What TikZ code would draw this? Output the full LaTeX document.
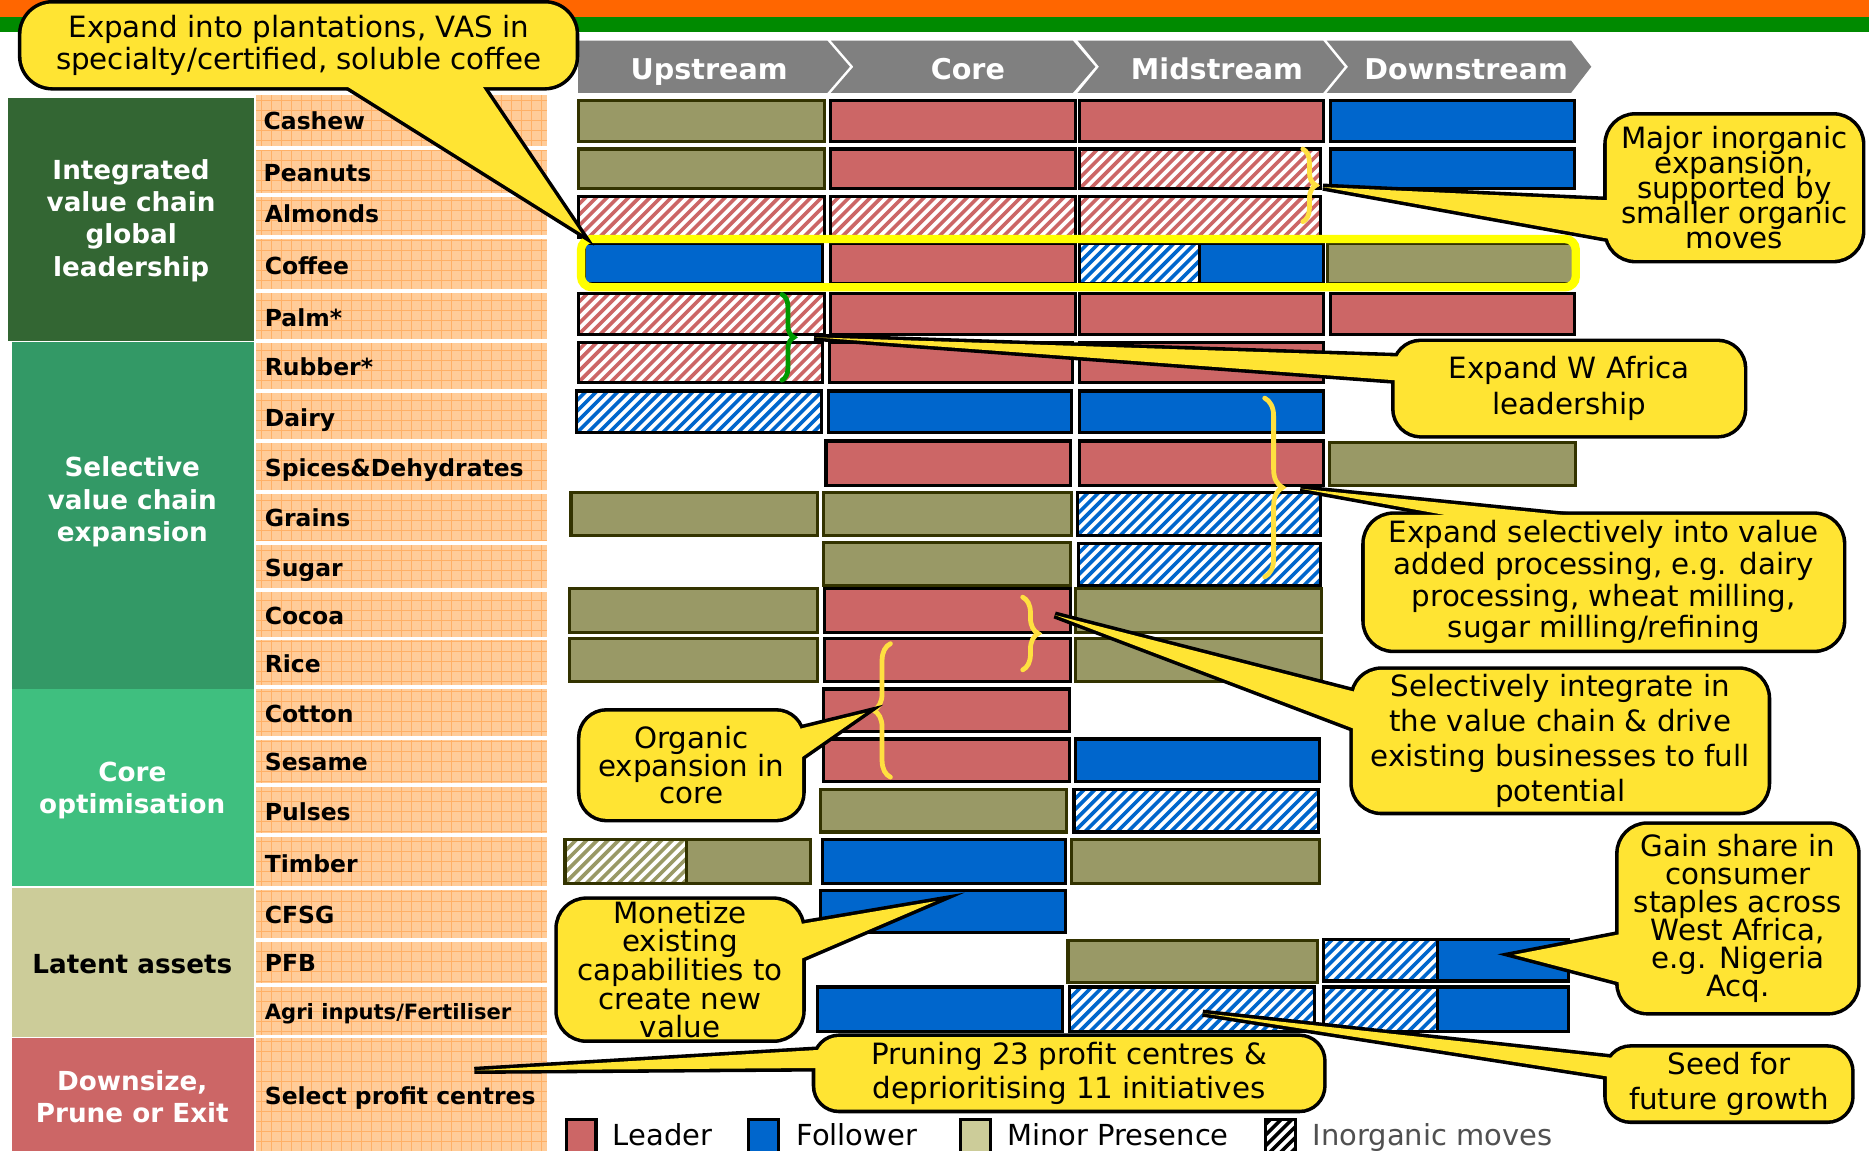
\documentclass[tikz,border=0pt]{standalone}
\usepackage{fontspec}
\setmainfont{DejaVu Sans}
\usetikzlibrary{calc,decorations.pathreplacing}

\definecolor{bandorange}{HTML}{FF6600}
\definecolor{bandgreen}{HTML}{008A00}
\definecolor{catdark}{HTML}{336633}
\definecolor{catmid}{HTML}{339966}
\definecolor{catlight}{HTML}{3FBF7F}
\definecolor{catbeige}{HTML}{CCCC99}
\definecolor{catred}{HTML}{CC6666}
\definecolor{cellfill}{HTML}{FFCC99}
\definecolor{cellgrid}{HTML}{FFB066}
\definecolor{headgray}{HTML}{808080}
\definecolor{leadred}{HTML}{CC6666}
\definecolor{follblue}{HTML}{0066CC}
\definecolor{minolive}{HTML}{999966}
\definecolor{olivedark}{HTML}{333300}
\definecolor{minlegend}{HTML}{CCCC99}
\definecolor{hiyellow}{HTML}{FFFF00}
\definecolor{braceyellow}{HTML}{FFE040}
\definecolor{bracegreen}{HTML}{009900}
\definecolor{bubblefill}{HTML}{FFE433}
\definecolor{legendgray}{HTML}{505050}

% callout font with a fixed baseline distance, even when lines would touch
\protected\def\bubblefont#1{\fontsize{24.6}{#1}\selectfont\lineskiplimit-100pt\lineskip0pt\relax}

\tikzset{
  leader/.style={fill=leadred, draw=black, line width=2.6pt},
  follower/.style={fill=follblue, draw=black, line width=2.6pt},
  minor/.style={fill=minolive, draw=olivedark, line width=2.6pt},
  headtext/.style={text=white, font=\bfseries\fontsize{24}{28}\selectfont, inner sep=0, text height=17.5pt, text depth=0pt},
  cattext/.style={align=center, text=white, font=\bfseries\fontsize{22}{27}\selectfont, inner sep=0},
  rowlabel/.style={anchor=west, inner sep=0, text height=14pt, text depth=0pt, font=\bfseries\fontsize{19.7}{22}\selectfont},
  bubbletext/.style={align=center, inner sep=0, font={\bubblefont{#1}}},
  legendtext/.style={anchor=west, inner sep=0, text height=17.5pt, text depth=0pt, font=\fontsize{24.3}{28}\selectfont},
  bracemark/.style={decorate, decoration={brace, amplitude=#1}, line width=4pt, line cap=round},
}

% diagonal stripes on white inside a rectangle
\newcommand{\hatchfill}[5]{%
  \fill[white] (#1,#2) rectangle (#3,#4);
  \begin{scope}
    \clip (#1,#2) rectangle (#3,#4);
    \foreach \hk in {0,9,...,270}
      \draw[#5, line width=3pt] ({#1+\hk-50},{#4+5}) -- ++(60,-60);
  \end{scope}}
\newcommand{\hatchbar}[6]{\hatchfill{#1}{#2}{#3}{#4}{#5}\draw[#6, line width=2.6pt] (#1,#2) rectangle (#3,#4);}
\newcommand{\sbar}[5]{\draw[#1] (#2,#3) rectangle (#4,#5);}
% half striped, half solid bar: x1, xm, x2, y1, y2, stripe colour, solid colour, border colour
\newcommand{\splitbar}[8]{%
  \hatchfill{#1}{#4}{#2}{#5}{#6}
  \fill[#7] (#2,#4) rectangle (#3,#5);
  \draw[#8, line width=2.6pt] (#1,#4) rectangle (#3,#5) (#2,#4) -- (#2,#5);}
% speech bubble: box (<p>nw)-(<p>se), pointer (<p>p)-(<p>tip)-(<p>q)
\newcommand{\bubbleshape}[2]{%
  \draw[line width=6pt, rounded corners=#2] (#1nw) rectangle (#1se);
  \draw[line width=6pt, line join=miter] ($(#1p)!-14pt!(#1tip)$) -- (#1tip) -- ($(#1q)!-14pt!(#1tip)$) -- cycle;
  \fill[bubblefill, rounded corners=#2] (#1nw) rectangle (#1se);
  \fill[bubblefill] ($(#1p)!-14pt!(#1tip)$) -- (#1tip) -- ($(#1q)!-14pt!(#1tip)$) -- cycle;}

\begin{document}
\begin{tikzpicture}[x=1pt, y=-1pt]
\useasboundingbox (0,0) rectangle (1568,965);
\fill[white] (0,0) rectangle (1568,965);

% top bands
\fill[bandorange] (0,0) rectangle (1568,14);
\fill[bandgreen] (0,14) rectangle (1568,27);

% strategy categories
\fill[catdark] (7,82) rectangle (213,286);
\fill[catmid] (10,287) rectangle (213,578);
\fill[catlight] (10,578) rectangle (213,743);
\fill[catbeige] (10,745) rectangle (213,870);
\fill[catred] (10,871) rectangle (213,968);
\node[cattext] (g1) at (110,185) {Integrated\\value chain\\global\\leadership};
\node[cattext] (g2) at (111,421) {Selective\\value chain\\expansion};
\node[cattext] (g3) at (111,663) {Core\\optimisation};
\node[cattext, text=black] (g4) at (111,809) {Latent assets};
\node[cattext] (g5) at (111,920) {Downsize,\\Prune or Exit};

% business cells
\fill[cellfill] (215,80) rectangle (459,968);
\foreach \gx in {219,227.4,...,459} \draw[cellgrid, line width=0.5pt] (\gx,80) -- (\gx,968);
\foreach \gy in {84,92.4,...,968} \draw[cellgrid, line width=0.5pt] (215,\gy) -- (459,\gy);
\foreach \gy in {124,163.5,199,244,286,328,370,413,455.5,495,535.5,576.5,619,658.5,700.5,745,788.5,826.5,869.5}
  \draw[white, line width=3pt] (213,\gy) -- (461,\gy);
\draw[white, line width=2pt] (214,80) -- (214,968);

\node[rowlabel] (r1) at (221,102) {Cashew};
\node[rowlabel] (r2) at (221,145) {Peanuts};
\node[rowlabel] (r3) at (222,180) {Almonds};
\node[rowlabel] (r4) at (222,223) {Coffee};
\node[rowlabel] (r5) at (222,267) {Palm*};
\node[rowlabel] (r6) at (222,308) {Rubber*};
\node[rowlabel] (r7) at (222,351) {Dairy};
\node[rowlabel] (r8) at (222,393) {Spices\&Dehydrates};
\node[rowlabel] (r9) at (222,435) {Grains};
\node[rowlabel] (r10) at (222,477) {Sugar};
\node[rowlabel] (r11) at (222,517) {Cocoa};
\node[rowlabel] (r12) at (222,557) {Rice};
\node[rowlabel] (r13) at (222,599) {Cotton};
\node[rowlabel] (r14) at (222,639) {Sesame};
\node[rowlabel] (r15) at (222,681) {Pulses};
\node[rowlabel] (r16) at (222,725) {Timber};
\node[rowlabel] (r17) at (222,768) {CFSG};
\node[rowlabel] (r18) at (222,808) {PFB};
\node[rowlabel, font=\bfseries\fontsize{17.7}{20}\selectfont, text height=12.8pt] (r19) at (222,849) {Agri inputs/Fertiliser};
\node[rowlabel] (r20) at (222,920) {Select profit centres};

% value chain stages
\fill[headgray] (485,34) -- (694,34) -- (713,56) -- (694,78) -- (485,78) -- cycle;
\fill[headgray] (697,34) -- (900,34) -- (919,56) -- (900,78) -- (697,78) -- (716,56) -- cycle;
\fill[headgray] (904,34) -- (1110,34) -- (1128,56) -- (1110,78) -- (904,78) -- (922,56) -- cycle;
\fill[headgray] (1113,34) -- (1318,34) -- (1335,56) -- (1318,78) -- (1113,78) -- (1131,56) -- cycle;
\node[headtext] (h1) at (595,58) {Upstream};
\node[headtext] (h2) at (812,58) {Core};
\node[headtext] (h3) at (1021,58) {Midstream};
\node[headtext] (h4) at (1230,58) {Downstream};

% positions per business
% Cashew
\sbar{minor}{485}{84}{692}{119}
\sbar{leader}{697}{84}{902}{119}
\sbar{leader}{906}{84}{1110}{119}
\sbar{follower}{1116}{84}{1321}{119}
% Peanuts
\sbar{minor}{485}{125}{692}{158}
\sbar{leader}{697}{125}{902}{158}
\hatchbar{906}{125}{1108}{158}{leadred}{black}
\sbar{follower}{1116}{125}{1321}{158}
% Almonds
\hatchbar{485}{165}{692}{199}{leadred}{black}
\hatchbar{697}{165}{902}{199}{leadred}{black}
\hatchbar{906}{165}{1108}{199}{leadred}{black}
% Coffee
\sbar{follower}{490}{204}{690}{238}
\sbar{leader}{697}{204}{902}{238}
\splitbar{906}{1006}{1110}{204}{238}{follblue}{follblue}{black}
\sbar{minor}{1114}{204}{1320}{238}
% Palm
\hatchbar{485}{246}{692}{281}{leadred}{black}
\sbar{leader}{697}{246}{902}{281}
\sbar{leader}{906}{246}{1110}{281}
\sbar{leader}{1116}{246}{1321}{281}
% Rubber
\hatchbar{485}{287}{690}{321}{leadred}{black}
\sbar{leader}{696}{287}{900}{321}
\sbar{leader}{906}{287}{1110}{321}
% Dairy
\hatchbar{484}{328}{689}{363}{follblue}{black}
\sbar{follower}{695}{328}{899}{363}
\sbar{follower}{906}{328}{1110}{363}
% Spices & dehydrates
\sbar{leader}{693}{370}{898}{407}
\sbar{leader}{906}{370}{1110}{407}
\sbar{minor}{1115}{371}{1322}{407}
% Grains
\sbar{minor}{479}{413}{686}{449}
\sbar{minor}{691}{413}{899}{449}
\hatchbar{904}{413}{1108}{449}{follblue}{black}
% Sugar
\sbar{minor}{691}{455}{898}{491}
\hatchbar{905}{456}{1108}{491}{follblue}{black}
% Cocoa
\sbar{minor}{478}{494}{686}{531}
\sbar{leader}{692}{494}{898}{531}
\sbar{minor}{902}{494}{1109}{531}
% Rice
\sbar{minor}{478}{536}{686}{572}
\sbar{leader}{692}{536}{898}{572}
\sbar{minor}{902}{536}{1109}{572}
% Cotton
\sbar{leader}{691}{578}{897}{614}
% Sesame
\sbar{leader}{691}{620}{897}{656}
\sbar{follower}{902}{620}{1107}{656}
% Pulses
\sbar{minor}{688}{662}{895}{698}
\hatchbar{901}{662}{1106}{698}{follblue}{black}
% Timber
\splitbar{474}{576}{680}{704}{741}{minolive}{minolive}{olivedark}
\sbar{follower}{690}{704}{894}{741}
\sbar{minor}{899}{704}{1107}{741}
% CFSG
\sbar{follower}{688}{747}{894}{782}
% PFB
\sbar{minor}{896}{789}{1105}{824}
\splitbar{1110}{1206}{1316}{788}{823}{follblue}{follblue}{black}
% Agri inputs
\sbar{follower}{686}{828}{891}{865}
\hatchbar{897}{828}{1103}{865}{follblue}{black}
\splitbar{1110}{1206}{1316}{828}{865}{follblue}{follblue}{black}

% coffee highlight
\draw[hiyellow, line width=7pt, rounded corners=9pt] (487.5,200.5) rectangle (1322,241);

% braces
\draw[braceyellow, bracemark=11pt] (1093,125) -- (1093,186);
\draw[bracegreen, bracemark=10pt] (656,247) -- (656,319);
\draw[braceyellow, bracemark=15pt] (1061,334) -- (1061,484);
\draw[braceyellow, bracemark=13pt] (858,501) -- (858,562);
\draw[braceyellow, bracemark=14pt] (747,652) -- (747,540);

% callouts
\coordinate (c1nw) at (18,3); \coordinate (c1se) at (483,73);
\coordinate (c1tip) at (488,196); \coordinate (c1p) at (292,73); \coordinate (c1q) at (405,73);
\bubbleshape{c1}{26pt}
\node[bubbletext=27pt] (c1) at ($(c1nw)!0.5!(c1se)$) {Expand into plantations, VAS in\\specialty/certified, soluble coffee};

\coordinate (c2nw) at (1348,97); \coordinate (c2se) at (1562,218);
\coordinate (c2tip) at (1110,157); \coordinate (c2p) at (1348,168); \coordinate (c2q) at (1348,200);
\bubbleshape{c2}{24pt}
\node[bubbletext=21pt] (c2) at ($(c2nw)!0.5!(c2se)$) {Major inorganic\\expansion,\\supported by\\smaller organic\\moves};

\coordinate (c3nw) at (1170,287); \coordinate (c3se) at (1463,365);
\coordinate (c3tip) at (683,283); \coordinate (c3p) at (1170,299); \coordinate (c3q) at (1170,319);
\bubbleshape{c3}{22pt}
\node[bubbletext=30pt] (c3) at ($(c3nw)!0.5!(c3se)$) {Expand W Africa\\leadership};

\coordinate (c4nw) at (1145,432); \coordinate (c4se) at (1546,545);
\coordinate (c4tip) at (1091,410); \coordinate (c4p) at (1212,432); \coordinate (c4q) at (1310,432);
\bubbleshape{c4}{24pt}
\node[bubbletext=26.5pt] (c4) at ($(c4nw)!0.5!(c4se)$) {Expand selectively into value\\added processing, e.g. dairy\\processing, wheat milling,\\sugar milling/refining};

\coordinate (c5nw) at (1135,562); \coordinate (c5se) at (1483,681);
\coordinate (c5tip) at (885,516); \coordinate (c5p) at (1135,580); \coordinate (c5q) at (1135,611);
\bubbleshape{c5}{24pt}
\node[bubbletext=29.5pt] (c5) at ($(c5nw)!0.5!(c5se)$) {Selectively integrate in\\the value chain \& drive\\existing businesses to full\\potential};

\coordinate (c6nw) at (487,597); \coordinate (c6se) at (673,687);
\coordinate (c6tip) at (726,598); \coordinate (c6p) at (673,611); \coordinate (c6q) at (673,635);
\bubbleshape{c6}{22pt}
\node[bubbletext=23pt] (c6) at ($(c6nw)!0.5!(c6se)$) {Organic\\expansion in\\core};

\coordinate (c7nw) at (468,755); \coordinate (c7se) at (673,872);
\coordinate (c7tip) at (785,756); \coordinate (c7p) at (673,775); \coordinate (c7q) at (673,804);
\bubbleshape{c7}{24pt}
\node[bubbletext=24pt] (c7) at ($(c7nw)!0.5!(c7se)$) {Monetize\\existing\\capabilities to\\create new\\value};

\coordinate (c8nw) at (684,870); \coordinate (c8se) at (1110,931);
\coordinate (c8tip) at (398,898); \coordinate (c8p) at (684,881); \coordinate (c8q) at (684,896);
\bubbleshape{c8}{20pt}
\node[bubbletext=29pt] (c8) at ($(c8nw)!0.5!(c8se)$) {Pruning 23 profit centres \&\\deprioritising 11 initiatives};

\coordinate (c9nw) at (1358,692); \coordinate (c9se) at (1558,849);
\coordinate (c9tip) at (1270,801); \coordinate (c9p) at (1358,784); \coordinate (c9q) at (1358,824);
\bubbleshape{c9}{24pt}
\node[bubbletext=23.6pt] (c9) at ($(c9nw)!0.5!(c9se)$) {Gain share in\\consumer\\staples across\\West Africa,\\e.g. Nigeria\\Acq.};

\coordinate (c10nw) at (1348,879); \coordinate (c10se) at (1553,940);
\coordinate (c10tip) at (1009,850); \coordinate (c10p) at (1348,887); \coordinate (c10q) at (1348,903);
\bubbleshape{c10}{20pt}
\node[bubbletext=29pt] (c10) at ($(c10nw)!0.5!(c10se)$) {Seed for\\future growth};

% legend
\draw[leader] (475,939) rectangle (500,970);
\node[legendtext] (k1) at (514,952) {Leader};
\draw[follower] (628,939) rectangle (653,970);
\node[legendtext] (k2) at (668,952) {Follower};
\draw[fill=minlegend, draw=black, line width=2.6pt] (806,939) rectangle (831,970);
\node[legendtext] (k3) at (845,952) {Minor Presence};
\hatchbar{1062}{939}{1087}{970}{black}{black}
\node[legendtext, text=legendgray] (k4) at (1101,952) {Inorganic moves};
\end{tikzpicture}
\end{document}
